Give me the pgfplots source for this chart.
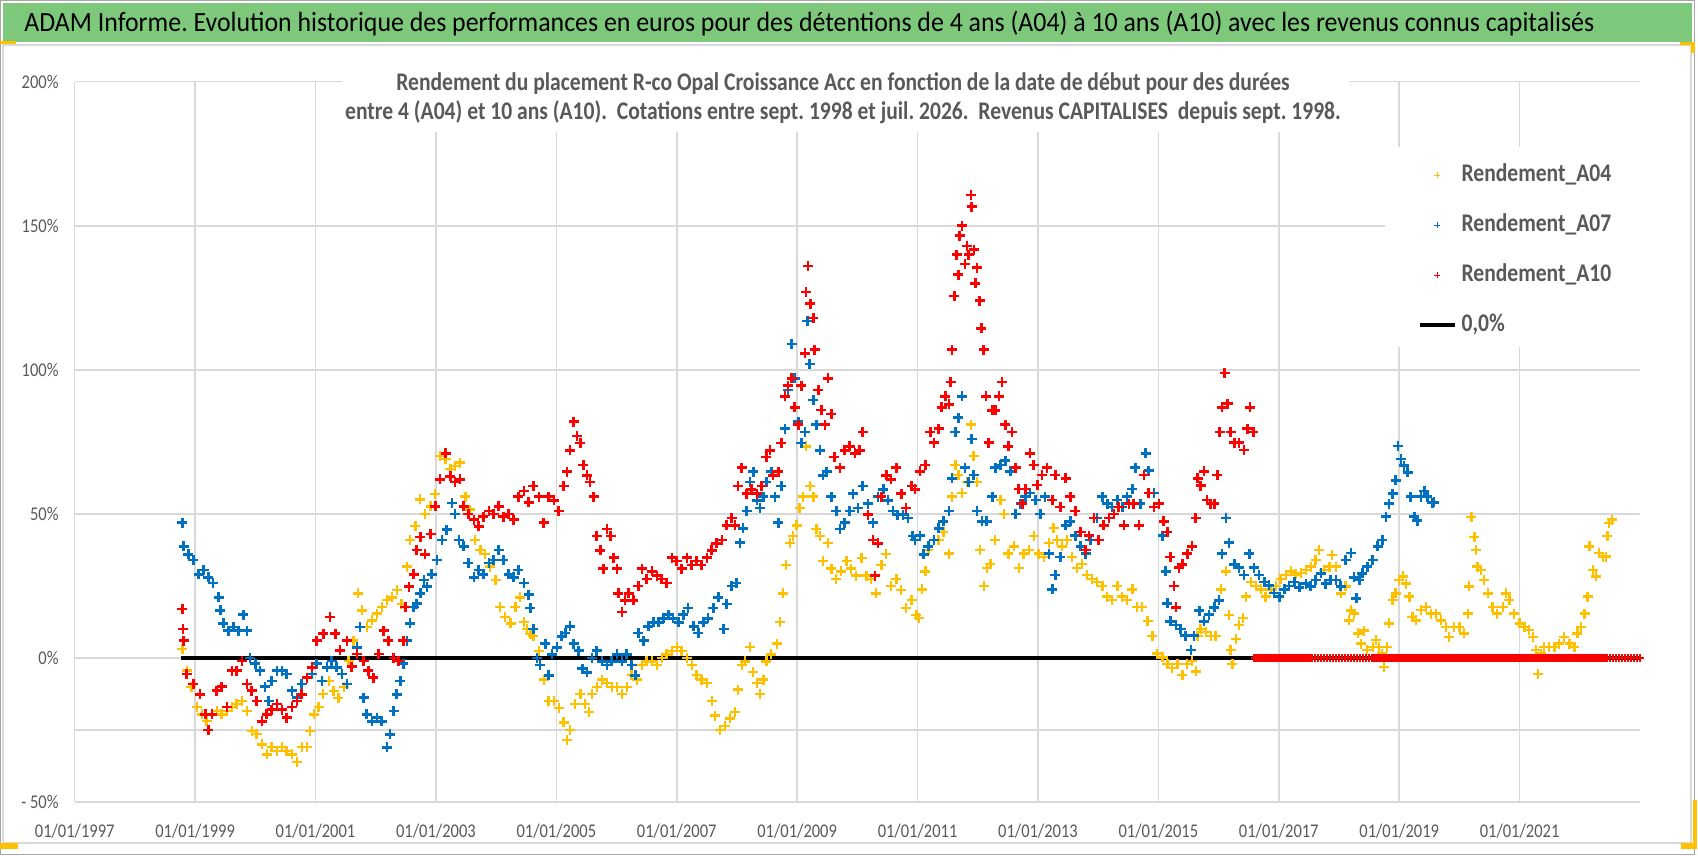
\documentclass[border=0pt]{standalone}
\usepackage{fontspec}
\setmainfont{Carlito}[FakeStretch=0.85]
\newfontfamily\titlefont{Carlito}[FakeStretch=0.93]
\usepackage{pgfplots}
\pgfplotsset{compat=1.18}
\definecolor{cY}{HTML}{FFC000}
\definecolor{cB}{HTML}{0070C0}
\definecolor{cR}{HTML}{FF0000}
\definecolor{cT}{HTML}{595959}
\definecolor{cG}{HTML}{D9D9D9}
\definecolor{cGreen}{RGB}{126,200,124}
\begin{document}
\frenchspacing
\begin{tikzpicture}
% frame and title (1 unit = 1 px of the reference, y measured from the bottom)
\begin{scope}[x=0.5pt,y=0.5pt]
\path[fill=white] (0,0) rectangle (1698,856);
\draw[gray!70,line width=0.5pt] (0.5,855.5) rectangle (1694,1);
\fill[cGreen] (3,853) rectangle (1692,814);
\draw[cG,line width=0.6pt] (3,811) rectangle (1691,13);
\fill[cY] (0,815) rectangle (16,812);
\fill[cY] (1680,814) rectangle (1695,811);
\fill[cY] (1691,814) rectangle (1695,803);
\fill[cY] (0,13) rectangle (18,7);
\fill[cY] (1681,13) rectangle (1697,7);
\fill[cY] (1693,56) rectangle (1697,7);
\node[anchor=base west,inner sep=0pt,font=\titlefont\fontsize{13.9}{16}\selectfont] at (24,824)
 {ADAM Informe. Evolution historique des performances en euros pour des détentions de 4 ans (A04) à 10 ans (A10) avec les revenus connus capitalisés};
\end{scope}
\begin{axis}[
 at={(37.35pt,27pt)}, anchor=south west,
 scale only axis, width=782.65pt, height=360.15pt,
 xmin=1997, xmax=2023.0, ymin=-50, ymax=200,
 xtick={1997,1999,2001,2003,2005,2007,2009,2011,2013,2015,2017,2019,2021},
 xticklabels={01/01/1997,01/01/1999,01/01/2001,01/01/2003,01/01/2005,01/01/2007,01/01/2009,01/01/2011,01/01/2013,01/01/2015,01/01/2017,01/01/2019,01/01/2021},
 ytick={-50,0,50,100,150,200},
 yticklabels={- 50\%,0\%,50\%,100\%,150\%,200\%},
 extra y ticks={-25}, extra y tick labels={},
 extra y tick style={grid=major},
 xmajorgrids, ymajorgrids,
 grid style={draw=cG,line width=0.8pt},
 axis line style={draw=none},
 major tick length=0pt,
 tick style={draw=none},
 xticklabel style={anchor=center,inner sep=0pt,yshift=-14.5pt,text=cT,font=\fontsize{9.7}{11}\selectfont},
 yticklabel style={anchor=east,inner sep=0pt,xshift=-7.85pt,text=cT,font=\fontsize{9.7}{11}\selectfont},
 legend style={at={(0.8371,0.9093)},anchor=north west,draw=none,fill=none,
   inner xsep=16.5pt,inner ysep=8.5pt,row sep=14pt,column sep=2.5pt,
   font=\fontsize{12.7}{14}\selectfont\bfseries,text=cT,
   nodes={inner sep=0pt,text height=8.5pt,text depth=2.5pt}},
 legend cell align=left,
]
\fill[white] (rel axis cs:0.8371,0.9093) rectangle (rel axis cs:1,0.6317);
\addplot[black,line width=2pt,forget plot] coordinates {(1998.76,0) (2023.0,0)};
% Rendement_A04
\addplot[only marks,mark=+,cY,mark size=2.5pt,mark options={line width=1.15pt},forget plot] coordinates {
(1998.79,3) (1998.86,-4.4) (1998.94,-10) (1999.03,-17) (1999.11,-19.6) (1999.19,-22) (1999.28,-19.6) (1999.36,-18.4) (1999.44,-19.6) (1999.53,-18.4) (1999.61,-17) (1999.69,-16) (1999.78,-15) (1999.86,-18.4) (1999.94,-25.4) (2000.02,-26.5) (2000.11,-30) (2000.19,-33.5) (2000.27,-31) (2000.36,-32.4) (2000.44,-31) (2000.52,-32.4) (2000.61,-33.5) (2000.69,-36) (2000.77,-31) (2000.86,-31) (2000.91,-25.4) (2000.97,-19.6) (2001.05,-17) (2001.13,-12.6) (2001.22,-8) (2001.30,-11.4) (2001.38,-13.8) (2001.47,-10) (2001.55,-1) (2001.63,6) (2001.71,22.4) (2001.77,16.5) (2001.85,10.7) (2001.94,13) (2002.02,15.4) (2002.10,17.7) (2002.19,20) (2002.27,21) (2002.35,23.5) (2002.43,18.8) (2002.52,31.7) (2002.57,41) (2002.66,45.7) (2002.74,55) (2002.82,50) (2002.91,52.6) (2002.99,57) (2003.07,70) (2003.16,69) (2003.24,65.5) (2003.32,66.7) (2003.40,67.8) (2003.49,56) (2003.57,51.5) (2003.65,41) (2003.74,37.5) (2003.82,36) (2003.90,31.7) (2003.99,27) (2004.07,17.7) (2004.15,14.2) (2004.24,12) (2004.32,17.7) (2004.40,21) (2004.46,12.4) (2004.51,10) (2004.57,8.4) (2004.62,7.5) (2004.71,2.5) (2004.79,-7.5) (2004.87,-15) (2004.96,-15) (2005.04,-17.4) (2005.12,-22.4) (2005.18,-28.6) (2005.23,-25) (2005.31,-16) (2005.40,-12.4) (2005.48,-16) (2005.54,-18.7) (2005.59,-12.4) (2005.67,-10) (2005.76,-7.5) (2005.84,-8.7) (2005.92,-10) (2006.01,-10) (2006.09,-12.4) (2006.17,-10) (2006.25,-6) (2006.34,-7.5) (2006.42,-2.5) (2006.50,-1.2) (2006.59,-1.2) (2006.67,-2.5) (2006.75,0) (2006.83,1.2) (2006.92,2.5) (2007.00,3.7) (2007.08,2.5) (2007.17,0) (2007.25,-2.5) (2007.33,-6) (2007.41,-7.5) (2007.50,-8.7) (2007.58,-15) (2007.64,-20) (2007.72,-25) (2007.80,-23.6) (2007.88,-21) (2007.97,-18.7) (2008.02,-11) (2008.08,-2.5) (2008.13,-1.2) (2008.22,3.7) (2008.27,-5) (2008.33,-8.7) (2008.38,-12.4) (2008.44,-7.5) (2008.49,-1.2) (2008.57,1.2) (2008.66,5) (2008.71,12.4) (2008.77,22.4) (2008.82,32.3) (2008.88,39.8) (2008.93,42.3) (2008.99,46) (2009.04,52) (2009.10,56) (2009.15,73.4) (2009.21,59.7) (2009.27,56) (2009.32,44.8) (2009.38,42.3) (2009.43,33.6) (2009.51,39.8) (2009.57,31) (2009.65,27.4) (2009.73,30) (2009.82,33.6) (2009.90,31) (2009.98,28.6) (2010.07,34.8) (2010.15,28.6) (2010.23,27.4) (2010.31,22.4) (2010.40,32.3) (2010.48,36) (2010.56,25) (2010.65,27.4) (2010.73,23.6) (2010.81,17.4) (2010.90,20) (2010.98,15) (2011.02,13.9) (2011.07,23.8) (2011.13,30) (2011.18,37.5) (2011.27,41) (2011.35,41) (2011.43,43.7) (2011.52,36.2) (2011.57,56) (2011.63,67) (2011.68,63.5) (2011.74,57.3) (2011.82,61) (2011.89,81) (2011.93,70) (2011.99,61) (2012.04,37.5) (2012.10,25) (2012.15,31.3) (2012.21,32.5) (2012.29,41) (2012.38,54.8) (2012.43,49.9) (2012.51,36.2) (2012.60,38.7) (2012.68,31.3) (2012.76,36.2) (2012.85,37.5) (2012.93,42.4) (2013.01,36.2) (2013.10,35) (2013.18,40) (2013.26,45) (2013.32,41) (2013.40,38.7) (2013.48,41) (2013.57,35) (2013.65,31.3) (2013.73,32.5) (2013.82,28.8) (2013.90,27.5) (2013.98,26.3) (2014.07,25) (2014.15,21.3) (2014.23,20) (2014.32,25) (2014.40,21.3) (2014.48,20) (2014.57,23.8) (2014.65,17.6) (2014.73,17.6) (2014.82,12.7) (2014.90,7.7) (2014.98,1.5) (2015.07,0.2) (2015.15,-2.2) (2015.23,-3.5) (2015.32,-2.2) (2015.40,-6) (2015.48,-2.2) (2015.56,-1) (2015.62,-4.7) (2015.65,7.7) (2015.70,10) (2015.79,9) (2015.87,7.7) (2015.95,7.7) (2016.04,23.8) (2016.12,30) (2016.17,15) (2016.20,2.7) (2016.23,-2.2) (2016.29,6.5) (2016.34,11.4) (2016.40,13.9) (2016.45,21.3) (2016.54,26.3) (2016.62,25) (2016.70,23.8) (2016.78,21.3) (2016.87,23.8) (2016.95,25) (2017.03,27.5) (2017.12,28.8) (2017.20,30) (2017.28,29) (2017.37,29.5) (2017.45,30.6) (2017.53,31.7) (2017.61,34) (2017.67,37.5) (2017.75,30.6) (2017.84,31.7) (2017.88,35.8) (2017.95,31.7) (2018.03,22.4) (2018.11,24.8) (2018.17,13) (2018.20,16.5) (2018.25,15.4) (2018.31,8.5) (2018.36,5) (2018.42,9.5) (2018.47,2.7) (2018.56,3.8) (2018.61,6.2) (2018.67,3.8) (2018.72,1.5) (2018.75,-3.1) (2018.80,3.8) (2018.83,12) (2018.89,20) (2018.94,22.4) (2019.00,27) (2019.06,28.3) (2019.11,25.8) (2019.17,21.3) (2019.22,14.3) (2019.28,13) (2019.36,16.6) (2019.44,17.7) (2019.53,15.4) (2019.61,15.4) (2019.69,13) (2019.78,10.8) (2019.83,7.3) (2019.91,10.8) (2020.00,10.8) (2020.08,8.5) (2020.14,15.4) (2020.16,24.8) (2020.20,49) (2020.25,42) (2020.27,37.5) (2020.30,31.7) (2020.36,30.6) (2020.41,27) (2020.47,22.4) (2020.55,17.7) (2020.63,15.4) (2020.72,17.7) (2020.77,22.4) (2020.83,20) (2020.91,15.4) (2021.00,12) (2021.08,10.8) (2021.16,9.7) (2021.22,7.3) (2021.27,2.7) (2021.30,-5.5) (2021.36,1.5) (2021.41,3.8) (2021.49,3.8) (2021.58,3.8) (2021.66,5) (2021.74,7.3) (2021.83,5) (2021.91,3.8) (2021.96,8.5) (2022.02,10.8) (2022.08,15.4) (2022.13,21.3) (2022.16,38.7) (2022.22,30.6) (2022.27,28.3) (2022.32,36.4) (2022.38,35.2) (2022.43,35.2) (2022.46,42.2) (2022.49,46.9) (2022.53,48)
};
% Rendement_A07
\addplot[only marks,mark=+,cB,mark size=2.5pt,mark options={line width=1.3pt},forget plot] coordinates {
(1998.79,47) (1998.81,38.7) (1998.89,36) (1998.97,34) (1999.06,29) (1999.14,30.5) (1999.22,28) (1999.30,26) (1999.39,21) (1999.42,16.5) (1999.47,12) (1999.55,9.5) (1999.64,10.7) (1999.72,9.5) (1999.80,15) (1999.86,9.5) (1999.91,0) (2000.00,-2) (2000.08,-4.4) (2000.16,-10) (2000.22,-15) (2000.27,-8) (2000.36,-4.4) (2000.44,-4.4) (2000.52,-5.6) (2000.61,-11.4) (2000.69,-13.8) (2000.77,-9) (2000.86,-6.8) (2000.94,-5.6) (2001.02,-2) (2001.11,-8) (2001.19,-3.3) (2001.27,-1) (2001.35,-3.3) (2001.44,-5.6) (2001.52,-9) (2001.60,-3) (2001.69,3.7) (2001.74,10.7) (2001.80,-13.8) (2001.85,-19.6) (2001.94,-22) (2002.02,-20.7) (2002.10,-22) (2002.19,-31) (2002.24,-26.5) (2002.30,-18.4) (2002.35,-12.6) (2002.41,-8) (2002.46,-2) (2002.52,6) (2002.57,12) (2002.63,17.7) (2002.68,18.8) (2002.74,22.4) (2002.80,27) (2002.85,24.7) (2002.93,29) (2003.02,34) (2003.10,41) (2003.18,44.5) (2003.27,53.8) (2003.32,50) (2003.38,41) (2003.46,38.7) (2003.54,33) (2003.63,28) (2003.71,30.5) (2003.79,29) (2003.88,33) (2003.96,34) (2004.04,37.5) (2004.12,34) (2004.21,29) (2004.29,28) (2004.37,30.5) (2004.46,26) (2004.54,22) (2004.57,17.4) (2004.62,10) (2004.68,0) (2004.73,-2.5) (2004.82,5) (2004.87,-6) (2004.93,1.2) (2005.01,3.7) (2005.09,7.5) (2005.15,8.7) (2005.23,11) (2005.29,5) (2005.37,2.5) (2005.43,-3.7) (2005.51,-5) (2005.59,0) (2005.67,2.5) (2005.76,-1.2) (2005.84,-2.5) (2005.92,-1.2) (2006.01,1.2) (2006.09,-1.2) (2006.17,1.2) (2006.25,-2.5) (2006.31,-6) (2006.36,8.7) (2006.45,6) (2006.53,11) (2006.61,12.4) (2006.70,12.4) (2006.78,13.7) (2006.86,15) (2006.94,13.7) (2007.03,12.4) (2007.11,15) (2007.19,17.4) (2007.28,11) (2007.36,8.7) (2007.44,12.4) (2007.52,13.7) (2007.61,17.4) (2007.69,21) (2007.78,10) (2007.83,18.7) (2007.91,25) (2007.99,26) (2008.05,40) (2008.10,45) (2008.16,51) (2008.22,61) (2008.27,64.7) (2008.33,54.7) (2008.38,52) (2008.44,56) (2008.49,61) (2008.57,64.7) (2008.63,56) (2008.69,47) (2008.74,59.7) (2008.80,79.6) (2008.85,93) (2008.91,109) (2008.96,97) (2009.02,82) (2009.07,74.6) (2009.13,78.4) (2009.17,117) (2009.21,102) (2009.27,89.5) (2009.32,81) (2009.38,72) (2009.43,63.4) (2009.49,64.7) (2009.57,56) (2009.65,51) (2009.71,44.8) (2009.79,47) (2009.87,51) (2009.93,57) (2010.01,52) (2010.09,59.7) (2010.18,53.5) (2010.26,47) (2010.34,56) (2010.43,58.5) (2010.51,54.7) (2010.59,51) (2010.67,49.7) (2010.76,49.7) (2010.84,48.5) (2010.92,42.3) (2010.96,41) (2011.04,42.4) (2011.10,36) (2011.18,38.7) (2011.27,41) (2011.35,45) (2011.43,47.4) (2011.52,51) (2011.57,62.3) (2011.63,78.4) (2011.68,83.4) (2011.74,90.8) (2011.79,66) (2011.85,61) (2011.90,76) (2011.93,63.5) (2011.99,51) (2012.07,47.4) (2012.15,47.4) (2012.24,56) (2012.29,66) (2012.38,67) (2012.46,68.5) (2012.54,64.8) (2012.63,49.9) (2012.71,53.6) (2012.79,56) (2012.87,57.3) (2012.96,54.8) (2013.04,49.9) (2013.12,56) (2013.18,36.2) (2013.24,23.8) (2013.29,28.8) (2013.37,35) (2013.46,46) (2013.54,47.4) (2013.62,42.4) (2013.71,38.7) (2013.79,36.2) (2013.87,41) (2013.98,48.6) (2014.07,56) (2014.15,53.6) (2014.23,52.4) (2014.32,54.8) (2014.40,52.4) (2014.48,56) (2014.57,58.6) (2014.62,66) (2014.70,53.6) (2014.79,71) (2014.84,65) (2014.93,57.3) (2015.01,53.6) (2015.07,42.4) (2015.12,30) (2015.15,18.9) (2015.20,12.7) (2015.29,11.4) (2015.37,10) (2015.45,7.7) (2015.54,2.7) (2015.59,7.7) (2015.68,16.4) (2015.76,12.7) (2015.84,15) (2015.93,17.6) (2016.01,20) (2016.06,36.2) (2016.12,48.6) (2016.17,40) (2016.26,32.5) (2016.34,31.3) (2016.42,28.8) (2016.51,36.2) (2016.59,31.3) (2016.67,28.8) (2016.76,26.3) (2016.84,25.2) (2016.92,22.6) (2017.01,21.3) (2017.09,23.8) (2017.17,25) (2017.26,26.3) (2017.34,24.5) (2017.45,25.8) (2017.53,24.8) (2017.61,27) (2017.70,29.4) (2017.78,25.8) (2017.86,27) (2017.95,27) (2018.03,24.8) (2018.11,34) (2018.20,36.4) (2018.25,28) (2018.29,20.7) (2018.34,27) (2018.39,29.4) (2018.47,31.7) (2018.56,34) (2018.64,38.7) (2018.72,41) (2018.78,49) (2018.83,53.5) (2018.89,57) (2018.94,61.6) (2018.98,73.6) (2019.03,69) (2019.08,66.7) (2019.14,64.4) (2019.19,56) (2019.25,49) (2019.30,47.7) (2019.36,56) (2019.42,58) (2019.47,56) (2019.55,53.8) (2019.58,54)
};
% Rendement_A10
\addplot[only marks,mark=+,cR,mark size=2.5pt,mark options={line width=1.3pt},forget plot] coordinates {
(1998.79,17) (1998.80,10) (1998.81,6) (1998.86,-5.6) (1998.97,-9) (1999.08,-12.6) (1999.17,-19.6) (1999.22,-25) (1999.28,-19.6) (1999.36,-11.4) (1999.44,-10) (1999.53,-17) (1999.61,-4.4) (1999.69,-4.4) (1999.78,-1) (1999.86,-9) (1999.94,-11.4) (2000.02,-15) (2000.11,-22) (2000.19,-19.6) (2000.27,-18) (2000.36,-16) (2000.44,-18) (2000.52,-20.7) (2000.61,-17) (2000.69,-15) (2000.77,-12.6) (2000.86,-6.8) (2000.94,-3.3) (2001.02,6) (2001.13,8.4) (2001.24,14.2) (2001.33,8.4) (2001.41,2.6) (2001.52,6) (2001.60,-3) (2001.69,1.4) (2001.80,-1) (2001.88,-4.4) (2001.96,-6.8) (2002.05,1.4) (2002.13,9.5) (2002.21,6) (2002.30,0) (2002.38,-1) (2002.46,6) (2002.49,17.7) (2002.55,24.7) (2002.63,29) (2002.68,37.5) (2002.74,42) (2002.82,36) (2002.91,43) (2002.99,52.6) (2003.07,62) (2003.16,71) (2003.24,63) (2003.32,61) (2003.40,62) (2003.46,52.6) (2003.54,50) (2003.63,48) (2003.71,45.7) (2003.79,49) (2003.88,51) (2003.96,50) (2004.04,52.6) (2004.12,49) (2004.21,50) (2004.29,48) (2004.37,56) (2004.46,58) (2004.54,54) (2004.62,59.7) (2004.71,56) (2004.79,47) (2004.87,56) (2004.96,54.7) (2005.04,51) (2005.12,59.7) (2005.18,64.7) (2005.23,72) (2005.29,82) (2005.34,77) (2005.40,74.6) (2005.45,67) (2005.51,63.4) (2005.56,61) (2005.62,56) (2005.67,42.3) (2005.73,37.3) (2005.78,31) (2005.84,44.8) (2005.90,42.3) (2005.95,34.8) (2006.01,31) (2006.03,22.4) (2006.09,16) (2006.14,20) (2006.20,22.4) (2006.28,20) (2006.36,25) (2006.42,31) (2006.50,27.4) (2006.59,30) (2006.67,28.6) (2006.75,27.4) (2006.83,26) (2006.92,34.8) (2007.00,33.6) (2007.08,31) (2007.17,34.8) (2007.25,32.3) (2007.33,33.6) (2007.41,32.3) (2007.50,34.8) (2007.58,37.3) (2007.66,39.8) (2007.75,41) (2007.83,46) (2007.91,48.5) (2007.97,46) (2008.02,59.7) (2008.08,66) (2008.16,57) (2008.24,58.5) (2008.33,57) (2008.41,59.7) (2008.49,69.7) (2008.55,72) (2008.60,63.4) (2008.69,64.7) (2008.74,74.6) (2008.80,90.8) (2008.85,94.5) (2008.91,97) (2008.96,87) (2009.02,81) (2009.07,94.5) (2009.13,105.7) (2009.15,127) (2009.18,136) (2009.22,123) (2009.27,118) (2009.29,107) (2009.35,93) (2009.40,86) (2009.46,81) (2009.51,97) (2009.57,84.6) (2009.62,69.7) (2009.71,66) (2009.79,72) (2009.87,73.4) (2009.96,71) (2010.04,72) (2010.09,78.4) (2010.18,49.7) (2010.26,41) (2010.29,28.6) (2010.34,39.8) (2010.40,56) (2010.48,63.4) (2010.56,62) (2010.65,66) (2010.73,57) (2010.81,52) (2010.90,59.7) (2010.96,58.5) (2011.04,64.8) (2011.13,67) (2011.21,78.4) (2011.27,74.7) (2011.35,79.6) (2011.40,87) (2011.46,90.8) (2011.52,88) (2011.55,95.8) (2011.57,107) (2011.61,125.6) (2011.65,140) (2011.68,133) (2011.70,146.6) (2011.74,150) (2011.79,136.7) (2011.82,143) (2011.85,140) (2011.89,160.7) (2011.90,156.6) (2011.94,141.7) (2011.96,130) (2011.99,135.5) (2012.03,124) (2012.06,114.4) (2012.10,107) (2012.14,90.8) (2012.18,74.7) (2012.24,85.9) (2012.29,85.9) (2012.35,90.8) (2012.40,95.8) (2012.46,81) (2012.51,73.4) (2012.57,78.4) (2012.63,66) (2012.68,58.6) (2012.74,53.6) (2012.79,58.6) (2012.87,71) (2012.93,67) (2012.99,60) (2013.07,63.5) (2013.15,66) (2013.24,54.8) (2013.29,63.5) (2013.37,52.4) (2013.46,62.3) (2013.54,56) (2013.62,51) (2013.71,43.7) (2013.79,37.5) (2013.85,42.4) (2013.93,48.6) (2014.01,41) (2014.09,46) (2014.18,48.6) (2014.26,49.9) (2014.34,52.4) (2014.43,46) (2014.51,53.6) (2014.59,53.6) (2014.68,46) (2014.76,63.5) (2014.84,57.3) (2014.93,52.4) (2015.01,53.6) (2015.09,47.4) (2015.15,43.7) (2015.20,35) (2015.26,25) (2015.29,17.6) (2015.34,31.3) (2015.40,32.5) (2015.48,36.2) (2015.56,38.7) (2015.62,48.6) (2015.65,62.3) (2015.70,59.8) (2015.76,64.8) (2015.81,54.8) (2015.87,53.6) (2015.93,53.6) (2015.98,63.5) (2016.02,78.4) (2016.06,87) (2016.10,98.9) (2016.15,88.3) (2016.20,78.4) (2016.26,74.7) (2016.34,74.7) (2016.42,72.2) (2016.48,79.6) (2016.52,87) (2016.58,78.4)
};
% Rendement_A10 after the last known start date: 0
\addplot[only marks,mark=+,cR,mark size=2.1pt,mark options={line width=1.4pt},forget plot] coordinates {
(2016.60,0) (2016.65,0) (2016.70,0) (2016.75,0) (2016.80,0) (2016.85,0) (2016.90,0) (2016.95,0) (2017.00,0) (2017.05,0) (2017.10,0) (2017.15,0) (2017.20,0) (2017.25,0) (2017.30,0) (2017.35,0) (2017.40,0) (2017.45,0) (2017.50,0) (2017.55,0) (2017.60,0) (2017.65,0) (2017.70,0) (2017.75,0) (2017.80,0) (2017.85,0) (2017.90,0) (2017.95,0) (2018.00,0) (2018.05,0) (2018.10,0) (2018.15,0) (2018.20,0) (2018.25,0) (2018.30,0) (2018.35,0) (2018.40,0) (2018.45,0) (2018.50,0) (2018.55,0) (2018.60,0) (2018.65,0) (2018.70,0) (2018.75,0) (2018.80,0) (2018.85,0) (2018.90,0) (2018.95,0) (2019.00,0) (2019.05,0) (2019.10,0) (2019.15,0) (2019.20,0) (2019.25,0) (2019.30,0) (2019.35,0) (2019.40,0) (2019.45,0) (2019.50,0) (2019.55,0) (2019.60,0) (2019.65,0) (2019.70,0) (2019.75,0) (2019.80,0) (2019.85,0) (2019.90,0) (2019.95,0) (2020.00,0) (2020.05,0) (2020.10,0) (2020.15,0) (2020.20,0) (2020.25,0) (2020.30,0) (2020.35,0) (2020.40,0) (2020.45,0) (2020.50,0) (2020.55,0) (2020.60,0) (2020.65,0) (2020.70,0) (2020.75,0) (2020.80,0) (2020.85,0) (2020.90,0) (2020.95,0) (2021.00,0) (2021.05,0) (2021.10,0) (2021.15,0) (2021.20,0) (2021.25,0) (2021.30,0) (2021.35,0) (2021.40,0) (2021.45,0) (2021.50,0) (2021.55,0) (2021.60,0) (2021.65,0) (2021.70,0) (2021.75,0) (2021.80,0) (2021.85,0) (2021.90,0) (2021.95,0) (2022.00,0) (2022.05,0) (2022.10,0) (2022.15,0) (2022.20,0) (2022.25,0) (2022.30,0) (2022.35,0) (2022.40,0) (2022.45,0) (2022.50,0) (2022.55,0) (2022.60,0) (2022.65,0) (2022.70,0) (2022.75,0) (2022.80,0) (2022.85,0) (2022.90,0) (2022.95,0) (2023.00,0)
};
\addlegendimage{only marks,mark=+,cY,mark size=1.5pt,line width=0.5pt}
\addlegendentry{Rendement\_A04}
\addlegendimage{only marks,mark=+,cB,mark size=1.5pt,line width=0.6pt}
\addlegendentry{Rendement\_A07}
\addlegendimage{only marks,mark=+,cR,mark size=1.5pt,line width=0.6pt}
\addlegendentry{Rendement\_A10}
\addlegendimage{black,line width=2pt}
\addlegendentry{0,0\%}
\end{axis}
\begin{scope}[x=0.5pt,y=0.5pt]
\fill[white] (342,796) rectangle (1349,724);
\node[anchor=base,inner sep=0pt,text=cT,font=\fontsize{12.7}{14}\selectfont\bfseries] at (843,765)
 {Rendement du placement R-co Opal Croissance Acc en fonction de la date de début pour des durées};
\node[anchor=base,inner sep=0pt,text=cT,font=\fontsize{12.7}{14}\selectfont\bfseries] at (843,736)
 {entre 4 (A04) et 10 ans (A10).\ \ Cotations entre sept. 1998 et juil. 2026.\ \ Revenus CAPITALISES\ \ depuis sept. 1998.};
\end{scope}
\end{tikzpicture}
\end{document}
